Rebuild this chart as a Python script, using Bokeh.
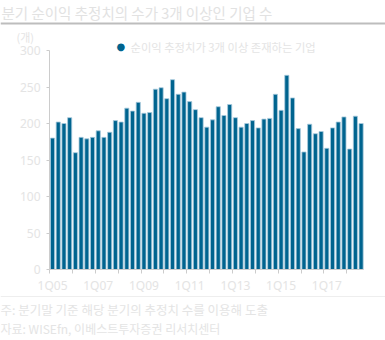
from bokeh.plotting import figure
from bokeh.models import Range1d, FixedTicker, Label, BoxAnnotation, ColumnDataSource
from bokeh.embed import file_html
from bokeh.resources import INLINE

# ---- data ----
quarters = [f"{q}Q{y:02d}" for y in range(5, 19) for q in range(1, 5)][:55]
counts = [180, 202, 200, 208, 160, 181, 179, 181, 190, 181, 188, 204, 202, 221, 217, 229, 214, 215,
          247, 249, 234, 260, 240, 243, 230, 219, 208, 195, 205, 223, 211, 226, 208, 195, 200, 204, 194,
          206, 207, 240, 218, 266, 235, 193, 161, 199, 186, 189, 166, 194, 202, 209, 165, 210, 200]
tick_labels = ["1Q05", "1Q07", "1Q09", "1Q11", "1Q13", "1Q15", "1Q17"]
y_ticks = [0, 50, 100, 150, 200, 250, 300]

title_text = "분기 순이익 추정치의 수가 3개 이상인 기업 수"
unit_text = "(개)"
legend_text = "순이익 추정치가 3개 이상 존재하는 기업"
note_text = "주: 분기말 기준 해당 분기의 추정치 수를 이용해 도출"
source_text = "자료: WISEfn, 이베스트투자증권 리서치센터"

KR = "Noto Sans CJK KR"
BAR = "#00648f"
TXT = "#e4e4e4"
AX = "#cccccc"
W, H = 385, 340

# plot-area geometry in page pixels
FL, FR, FT, FB = 49, 363, 50, 269
X0, X1 = 0.47, 55.42
YMAX = 300
sx = (FR - FL) / (X1 - X0)
sy = (FB - FT) / YMAX
x_start = X0 - FL / sx
x_end = x_start + W / sx
y_start = -(H - FB) / sy
y_end = y_start + H / sy

idx = list(range(1, len(counts) + 1))
src = ColumnDataSource(dict(x=idx, top=counts, q=quarters))

p = figure(width=W, height=H, output_backend="svg", toolbar_location=None,
           x_range=Range1d(x_start, x_end), y_range=Range1d(y_start, y_end),
           min_border=0)
p.outline_line_color = None
p.xgrid.grid_line_color = None
p.ygrid.grid_line_color = None
p.background_fill_color = "white"
p.border_fill_color = "white"

p.vbar(x="x", top="top", width=0.72, bottom=0, source=src,
       fill_color=BAR, line_color="#a8cadd", line_width=0.8)

label_pos = [quarters.index(t) + 1 for t in tick_labels]
boundaries = [i + 0.5 for i in range(0, 53, 4)]
xa = p.xaxis[0]
xa.fixed_location = 0
xa.bounds = (X0, X1)
xa.ticker = FixedTicker(ticks=label_pos, minor_ticks=boundaries)
xa.major_label_overrides = {pos: lab for pos, lab in zip(label_pos, tick_labels)}
xa.axis_line_color = AX
xa.major_tick_out = 0
xa.major_tick_in = 0
xa.minor_tick_out = 4
xa.minor_tick_in = 0
xa.minor_tick_line_color = AX
xa.major_label_standoff = 3
xa.major_label_text_color = TXT
xa.major_label_text_font = "Noto Sans"
xa.major_label_text_font_size = "12px"

ya = p.yaxis[0]
ya.fixed_location = X0
ya.bounds = (0, YMAX)
ya.ticker = FixedTicker(ticks=y_ticks)
ya.axis_line_color = AX
ya.major_tick_line_color = AX
ya.major_tick_out = 3
ya.major_tick_in = 0
ya.minor_tick_line_color = None
ya.major_label_standoff = 6
ya.major_label_text_color = TXT
ya.major_label_text_font = "Noto Sans"
ya.major_label_text_font_size = "12px"


def lab(text, x, y, size, color=TXT, font=KR):
    p.add_layout(Label(x=x, y=y, x_units="canvas", y_units="canvas", text=text,
                       text_font=font, text_font_size=size, text_color=color,
                       text_baseline="middle", text_align="left"))


def hline(top, bottom, color):
    p.add_layout(BoxAnnotation(left=0, right=W, top=top, bottom=bottom,
                               left_units="canvas", right_units="canvas",
                               top_units="canvas", bottom_units="canvas",
                               fill_color=color, fill_alpha=1, line_color=None))


lab(title_text, 1, 12, "14.5px", color="#e2e2e2")
hline(22, 24, "#bdbdbd")
lab(unit_text, 16, 36, "11px")
lab("●", 116, 46, "10px", color=BAR, font="DejaVu Sans")
lab(legend_text, 130, 46, "11.3px")
hline(295.5, 296.5, "#eeeeee")
lab(note_text, 0, 309, "12.5px")
lab(source_text, 0, 328, "12px")

open("out.html", "w").write(file_html(p, INLINE))
